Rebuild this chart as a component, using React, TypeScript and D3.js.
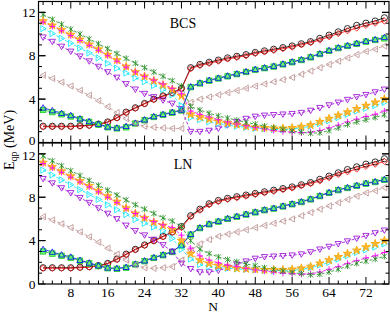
import React from "react";
import * as d3 from "d3";

const nValues = d3.range(2, 78, 2);

// BCS panel
const bcsCircle = [1.5,1.5,1.5,1.5,1.55,1.6,1.7,1.9,2.3,2.8,3.2,3.6,4.0,4.3,4.6,5.0,6.9,7.2,7.4,7.6,7.8,7.95,8.1,8.3,8.45,8.6,8.75,8.9,9.1,9.3,9.6,9.9,10.2,10.5,10.8,11.0,11.2,11.5];
const bcsDiamond = [1.45,1.45,1.45,1.45,1.5,1.55,1.65,1.85,2.25,2.75,3.15,3.55,3.95,4.25,4.55,4.95,6.8,7.1,7.3,7.5,7.7,7.85,8.0,8.2,8.35,8.5,8.65,8.8,9.0,9.2,9.45,9.75,10.05,10.3,10.55,10.8,11.0,11.2];
const bcsSquare = [3.0,2.8,2.6,2.4,2.15,1.9,1.65,1.4,1.3,1.4,1.75,2.05,2.35,2.55,2.75,2.95,5.1,5.45,5.7,5.9,6.1,6.3,6.5,6.7,6.85,7.0,7.2,7.4,7.6,7.85,8.15,8.45,8.7,8.9,9.1,9.3,9.45,9.6];
const bcsTriangle = [3.2,2.95,2.7,2.5,2.2,1.95,1.7,1.45,1.35,1.5,1.8,2.1,2.4,2.6,2.8,3.0,5.15,5.5,5.75,5.95,6.15,6.35,6.55,6.75,6.9,7.05,7.25,7.45,7.65,7.9,8.2,8.5,8.75,8.95,9.15,9.35,9.5,9.7];
const bcsLeft = [6.2,5.9,5.55,5.2,4.8,4.35,3.85,3.3,2.75,2.2,1.75,1.5,1.4,1.35,1.3,1.3,3.7,4.0,4.2,4.4,4.6,4.8,5.0,5.2,5.4,5.6,5.8,6.0,6.3,6.6,6.9,7.2,7.5,7.8,8.1,8.4,8.6,8.9];
const bcsDown = [9.7,9.3,8.85,8.4,7.95,7.5,7.0,6.5,6.0,5.4,4.9,4.5,4.2,3.9,3.6,3.1,1.0,1.0,1.1,1.3,1.6,1.9,2.2,2.4,2.5,2.55,2.6,2.65,2.75,2.95,3.2,3.45,3.7,3.95,4.2,4.4,4.65,4.9];
const bcsRight = [10.5,10.05,9.6,9.15,8.7,8.25,7.8,7.3,6.85,6.4,5.95,5.6,5.25,4.9,4.4,3.4,2.3,2.1,1.9,1.75,1.6,1.5,1.4,1.3,1.25,1.2,1.2,1.25,1.35,1.5,1.75,2.0,2.3,2.6,2.9,3.15,3.4,3.7];
const bcsStar = [11.2,10.8,10.4,9.95,9.5,9.05,8.6,8.1,7.6,7.0,6.5,6.1,5.7,5.3,4.9,4.3,2.6,2.35,2.15,1.95,1.8,1.65,1.5,1.4,1.35,1.3,1.3,1.35,1.45,1.6,1.9,2.2,2.5,2.8,3.1,3.4,3.7,4.0];
const bcsPlus = [11.1,10.7,10.3,9.85,9.4,8.95,8.5,8.0,7.5,6.95,6.5,6.1,5.75,5.4,5.0,4.5,2.9,2.6,2.35,2.1,1.9,1.7,1.55,1.4,1.25,1.1,1.0,0.95,0.9,0.95,1.1,1.35,1.6,1.9,2.15,2.4,2.6,2.9];
const bcsCross = [11.8,11.35,10.9,10.45,10.0,9.55,9.1,8.65,8.2,7.75,7.3,6.9,6.5,6.1,5.7,5.2,3.3,3.0,2.7,2.45,2.25,2.05,1.85,1.7,1.5,1.35,1.2,1.05,0.95,0.85,0.9,1.1,1.35,1.65,1.9,2.1,2.3,2.55];

// LN panel
const lnCircle = [1.5,1.5,1.5,1.5,1.55,1.6,1.7,1.9,2.3,2.75,3.2,3.6,4.0,4.4,4.8,5.3,6.3,6.9,7.4,7.7,7.9,8.05,8.2,8.35,8.5,8.65,8.8,8.95,9.15,9.35,9.65,9.95,10.25,10.55,10.8,11.05,11.25,11.55];
const lnDiamond = [1.45,1.45,1.45,1.45,1.5,1.55,1.65,1.85,2.25,2.7,3.15,3.55,3.95,4.35,4.75,5.2,6.2,6.8,7.3,7.6,7.8,7.95,8.1,8.25,8.4,8.55,8.7,8.85,9.05,9.25,9.5,9.8,10.1,10.35,10.6,10.85,11.05,11.3];
const lnSquare = [3.0,2.8,2.6,2.4,2.15,1.9,1.65,1.45,1.4,1.5,1.8,2.1,2.4,2.65,2.95,3.55,4.55,5.15,5.5,5.75,6.0,6.2,6.4,6.6,6.8,6.95,7.15,7.35,7.55,7.8,8.1,8.4,8.65,8.85,9.05,9.25,9.4,9.6];
const lnTriangle = [3.2,2.95,2.7,2.5,2.2,1.95,1.7,1.5,1.45,1.55,1.85,2.15,2.45,2.7,3.0,3.6,4.6,5.2,5.55,5.8,6.05,6.25,6.45,6.65,6.85,7.0,7.2,7.4,7.6,7.85,8.15,8.45,8.7,8.9,9.1,9.3,9.45,9.65];
const lnLeft = [6.2,5.9,5.55,5.2,4.8,4.35,3.85,3.3,2.75,2.2,1.75,1.5,1.45,1.5,1.6,2.2,3.1,3.7,4.1,4.4,4.6,4.8,5.0,5.2,5.4,5.6,5.8,6.0,6.3,6.6,6.9,7.2,7.5,7.8,8.1,8.4,8.6,8.9];
const lnDown = [9.7,9.3,8.85,8.4,7.95,7.5,7.0,6.5,6.0,5.4,4.9,4.5,4.1,3.6,3.0,1.9,1.4,1.1,1.1,1.25,1.5,1.8,2.1,2.35,2.5,2.55,2.6,2.65,2.75,2.95,3.2,3.45,3.7,3.95,4.2,4.45,4.7,4.95];
const lnRight = [10.5,10.05,9.6,9.15,8.7,8.25,7.8,7.3,6.85,6.4,5.95,5.6,5.25,4.9,4.2,3.2,2.3,1.8,1.6,1.5,1.45,1.4,1.35,1.3,1.25,1.2,1.2,1.25,1.35,1.5,1.75,2.0,2.3,2.6,2.9,3.15,3.4,3.7];
const lnStar = [11.2,10.8,10.4,9.95,9.5,9.05,8.6,8.1,7.6,7.0,6.5,6.1,5.7,5.4,5.0,4.0,2.8,2.2,1.9,1.7,1.55,1.45,1.4,1.35,1.3,1.3,1.3,1.35,1.45,1.6,1.9,2.2,2.5,2.8,3.1,3.4,3.7,4.0];
const lnPlus = [11.1,10.7,10.3,9.85,9.4,8.95,8.5,8.0,7.5,6.95,6.5,6.1,5.75,5.45,5.2,4.5,3.3,2.6,2.2,1.95,1.75,1.6,1.45,1.3,1.2,1.1,1.0,0.95,0.9,0.95,1.1,1.35,1.6,1.9,2.15,2.4,2.6,2.9];
const lnCross = [11.8,11.35,10.9,10.45,10.0,9.55,9.1,8.65,8.2,7.75,7.3,6.9,6.5,6.1,5.8,5.3,4.0,3.2,2.8,2.5,2.25,2.05,1.85,1.7,1.5,1.35,1.2,1.05,0.95,0.85,0.9,1.1,1.35,1.65,1.9,2.1,2.3,2.55];

const xTicks = [8, 16, 24, 32, 40, 48, 56, 64, 72];
const yTicks = [0, 4, 8, 12];

type Style = { color: string; marker: string; fill?: string; dash?: string };

const styles: Style[] = [
  { color: "#000000", marker: "circle" },
  { color: "#ff0000", marker: "diamond" },
  { color: "#22cc22", marker: "square", fill: "#66ff66" },
  { color: "#0000ff", marker: "triangle" },
  { color: "#bc8f8f", marker: "left", dash: "3,2" },
  { color: "#9400d3", marker: "down", dash: "3,2" },
  { color: "#00e5ff", marker: "right", dash: "3,2" },
  { color: "#ffa500", marker: "star", fill: "#ffb733", dash: "3,2" },
  { color: "#ff00ff", marker: "plus", dash: "3,2" },
  { color: "#1e8c1e", marker: "cross", dash: "3,2" },
];

const panels = [
  { label: "BCS", series: [bcsCircle, bcsDiamond, bcsSquare, bcsTriangle, bcsLeft, bcsDown, bcsRight, bcsStar, bcsPlus, bcsCross] },
  { label: "LN", series: [lnCircle, lnDiamond, lnSquare, lnTriangle, lnLeft, lnDown, lnRight, lnStar, lnPlus, lnCross] },
];

const left = 38.5;
const right = 389;
const panelTop = [1.5, 143];
const panelH = 141;

const x = d3.scaleLinear().domain([1, 77]).range([left, right]);

function Marker({ kind, cx, cy, color, fill }: { kind: string; cx: number; cy: number; color: string; fill?: string }) {
  const s = 3.1;
  const common = { stroke: color, strokeWidth: 0.8, fill: fill || "none" };
  switch (kind) {
    case "circle":
      return <circle cx={cx} cy={cy} r={s} {...common} />;
    case "diamond":
      return <path d={`M${cx},${cy - s}L${cx + s},${cy}L${cx},${cy + s}L${cx - s},${cy}Z`} {...common} />;
    case "square":
      return <rect x={cx - 2.7} y={cy - 2.7} width={5.4} height={5.4} {...common} />;
    case "triangle":
      return <path d={`M${cx},${cy - s}L${cx + s},${cy + s * 0.75}L${cx - s},${cy + s * 0.75}Z`} {...common} />;
    case "down":
      return <path d={`M${cx},${cy + s}L${cx + s},${cy - s * 0.75}L${cx - s},${cy - s * 0.75}Z`} {...common} />;
    case "left":
      return <path d={`M${cx - s},${cy}L${cx + s * 0.75},${cy - s}L${cx + s * 0.75},${cy + s}Z`} {...common} />;
    case "right":
      return <path d={`M${cx + s},${cy}L${cx - s * 0.75},${cy - s}L${cx - s * 0.75},${cy + s}Z`} {...common} />;
    case "star":
      return <path transform={`translate(${cx},${cy})`} d={d3.symbol(d3.symbolStar, 22)() || ""} {...common} />;
    case "plus":
      return <path d={`M${cx - s},${cy}H${cx + s}M${cx},${cy - s}V${cy + s}`} stroke={color} strokeWidth={0.9} />;
    default:
      return <path d={`M${cx - 2.6},${cy - 2.6}L${cx + 2.6},${cy + 2.6}M${cx - 2.6},${cy + 2.6}L${cx + 2.6},${cy - 2.6}M${cx},${cy - s}V${cy + s}`} stroke={color} strokeWidth={0.8} />;
  }
}

function Panel({ idx }: { idx: number }) {
  const p = panels[idx];
  const top = panelTop[idx];
  const y = d3.scaleLinear().domain([0, 13]).range([top + panelH, top]);
  const bottom = top + panelH;
  const line = d3.line<number>().x((_, i) => x(nValues[i])).y((d) => y(d));
  const xMinor = d3.range(2, 77, 2);
  const yMinor = d3.range(1, 13, 1);
  return (
    <g>
      {p.series.map((vals, si) => (
        <path key={"l" + si} d={line(vals) || ""} fill="none" stroke={styles[si].color} strokeWidth={0.8} strokeDasharray={styles[si].dash} />
      ))}
      {p.series.map((vals, si) => (
        <g key={"m" + si}>
          {vals.map((v, i) => (
            <Marker key={i} kind={styles[si].marker} cx={x(nValues[i])} cy={y(v)} color={styles[si].color} fill={styles[si].fill} />
          ))}
        </g>
      ))}
      <rect x={left} y={top} width={right - left} height={panelH} fill="none" stroke="#000" strokeWidth={1.2} />
      {xMinor.map((t) => {
        const major = t % 8 === 0;
        const len = major ? 7 : 3.5;
        return (
          <g key={"xt" + t} stroke="#000" strokeWidth={1}>
            <line x1={x(t)} x2={x(t)} y1={bottom} y2={bottom - len} />
            <line x1={x(t)} x2={x(t)} y1={top} y2={top + len} />
          </g>
        );
      })}
      {yMinor.concat(yTicks).map((t) => {
        const major = t % 4 === 0;
        const len = major ? 7 : 3.5;
        return (
          <g key={"yt" + t} stroke="#000" strokeWidth={1}>
            <line x1={left} x2={left + len} y1={y(t)} y2={y(t)} />
            <line x1={right} x2={right - len} y1={y(t)} y2={y(t)} />
          </g>
        );
      })}
      {yTicks.map((t) => {
        // the two labels where the panels meet are nudged apart
        const dy = idx === 0 && t === 0 ? 2.5 : idx === 1 && t === 12 ? 6 : 4.7;
        return (
          <text key={"yl" + t} x={left - 3} y={y(t) + dy} textAnchor="end" fontSize={13.5}>{t}</text>
        );
      })}
      {idx === 1 && xTicks.map((t) => (
        <text key={"xl" + t} x={x(t)} y={bottom + 12.5} textAnchor="middle" fontSize={13.5}>{t}</text>
      ))}
      <text x={183} y={top + 26} textAnchor="middle" fontSize={14}>{p.label}</text>
    </g>
  );
}

export default function App() {
  return (
    <svg width={390} height={312} style={{ position: "absolute", left: 0, top: 0, background: "#fff" }} fontFamily="'Liberation Serif', 'DejaVu Serif', serif">
      <Panel idx={0} />
      <Panel idx={1} />
      <text x={213} y={310.5} textAnchor="middle" fontSize={13.5}>N</text>
      <text transform="translate(14,140) rotate(-90)" textAnchor="middle" fontSize={14}>
        E<tspan fontSize={10} dy={3}>qp</tspan><tspan dy={-3}> (MeV)</tspan>
      </text>
    </svg>
  );
}
